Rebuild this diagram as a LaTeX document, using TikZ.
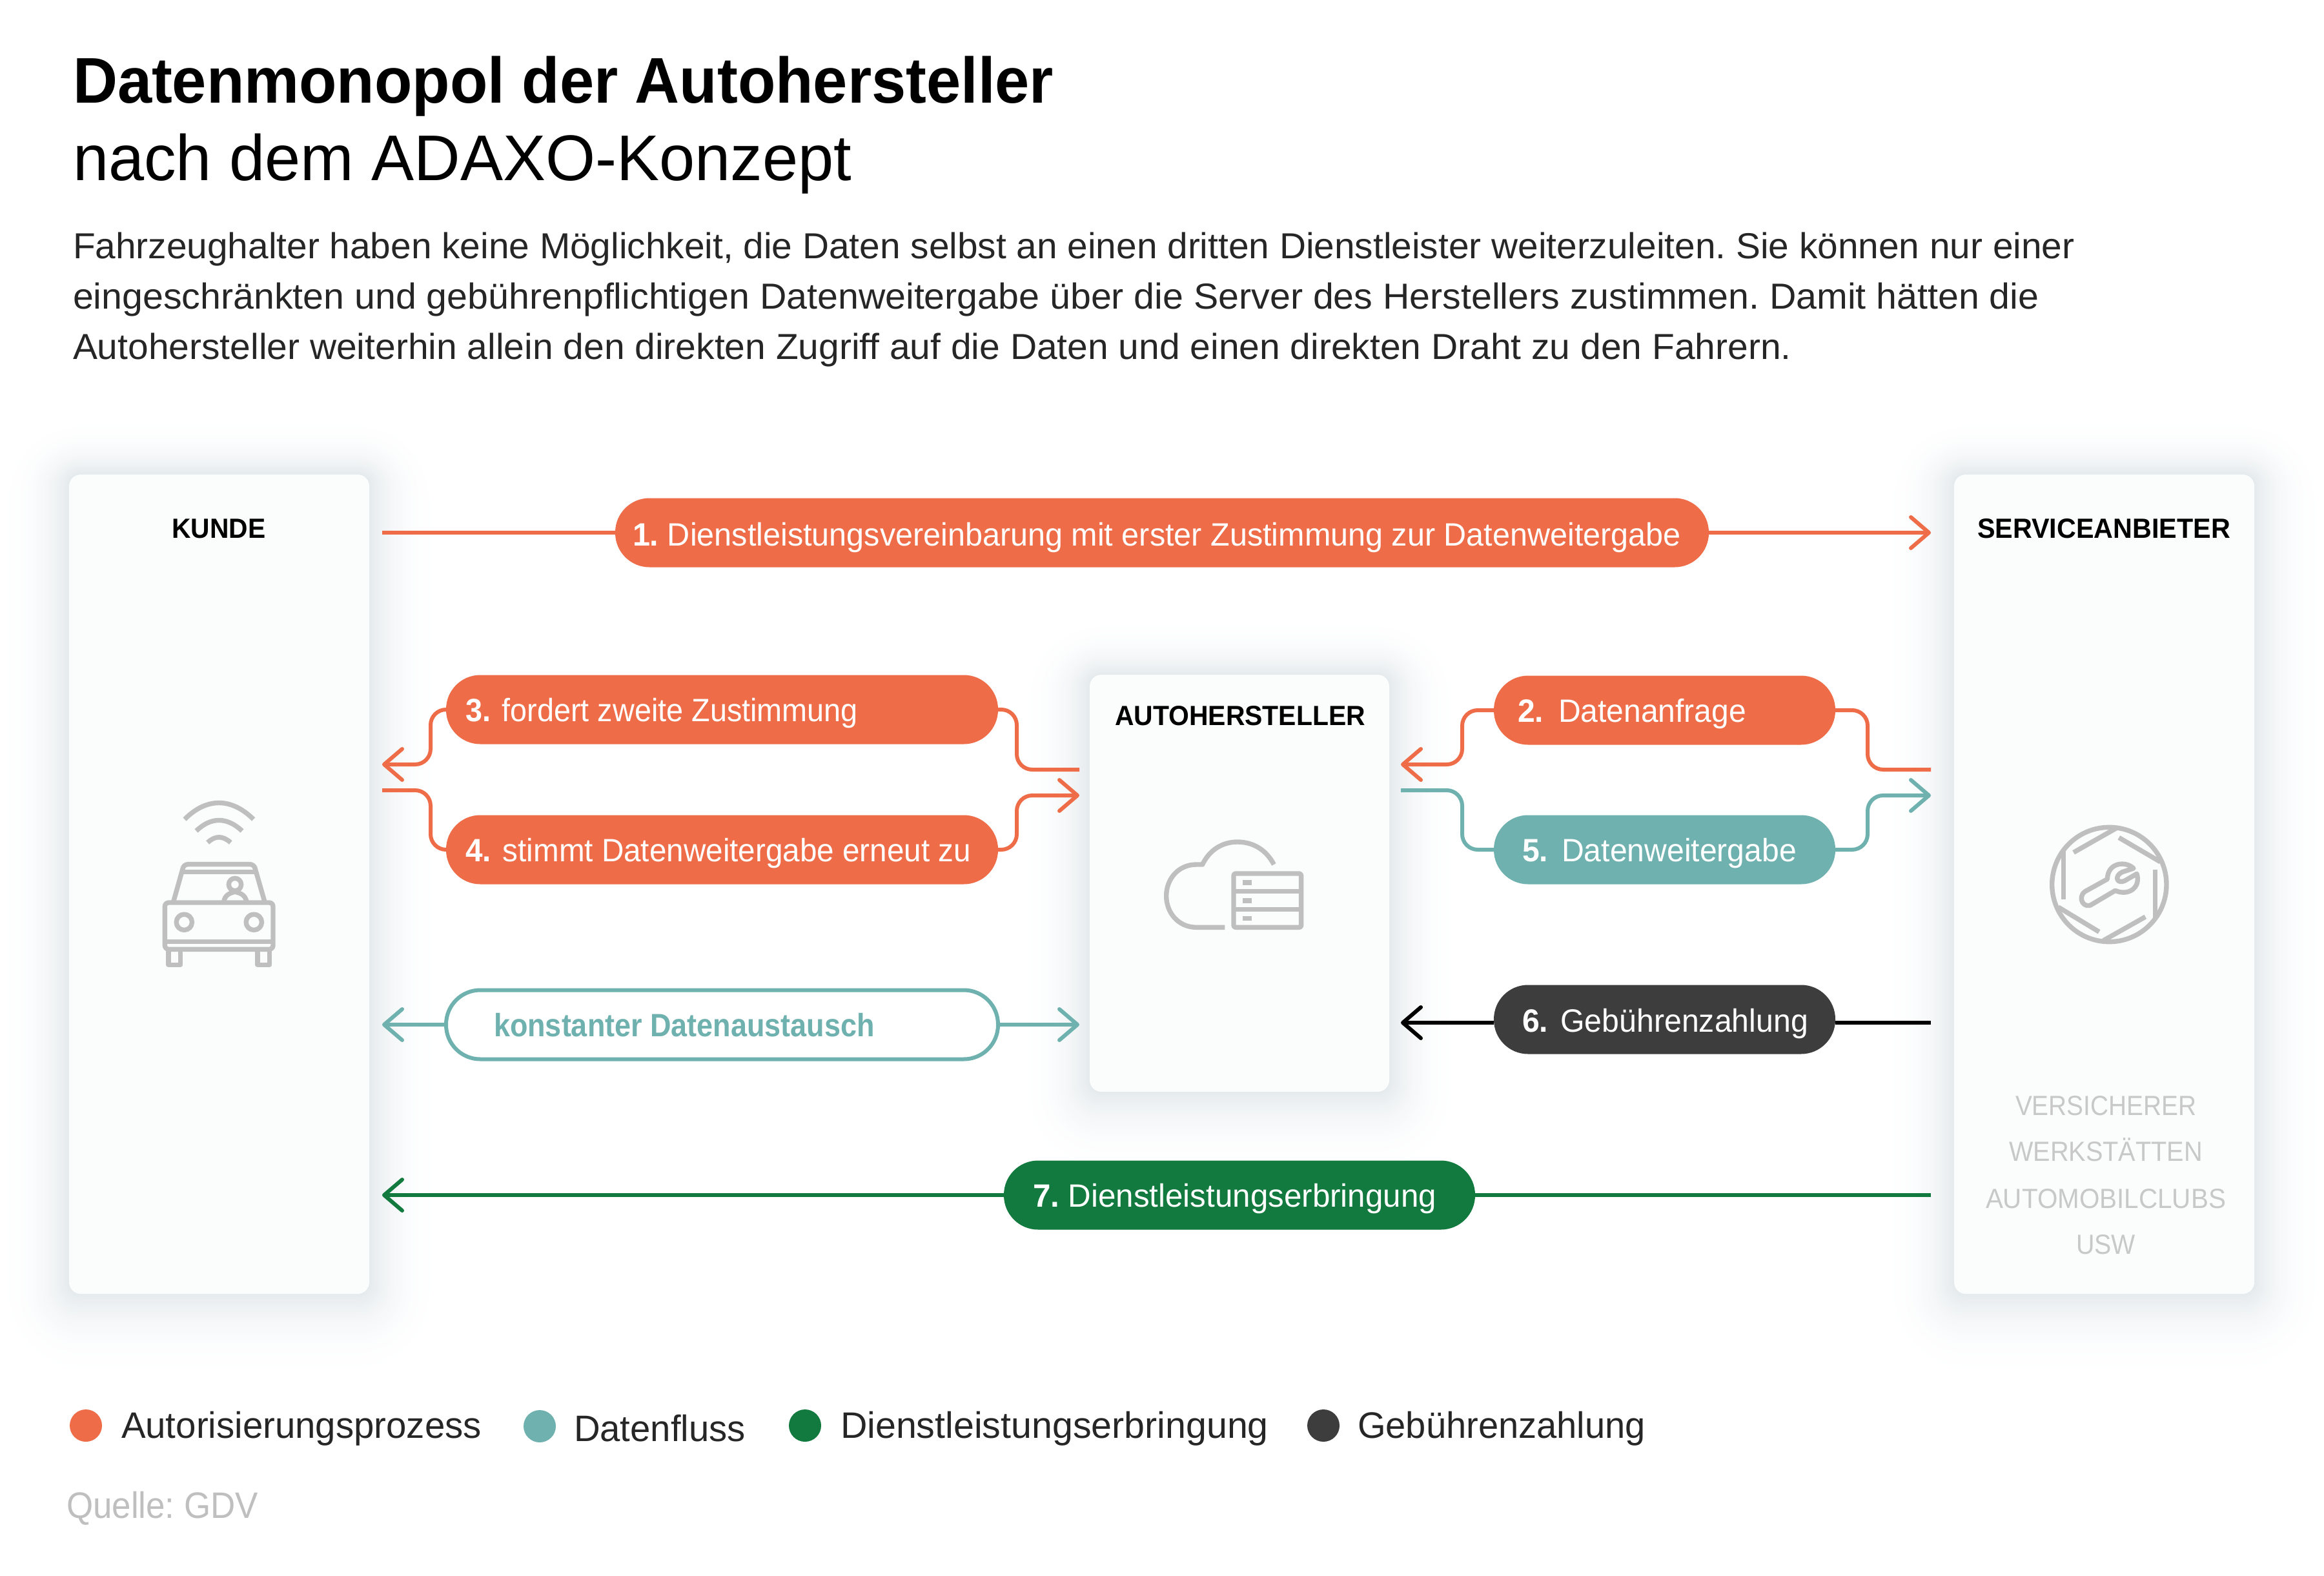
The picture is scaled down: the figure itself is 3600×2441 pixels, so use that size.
\documentclass[tikz,border=0pt]{standalone}
\usepackage{fontspec}
\setmainfont{Liberation Sans}
\usetikzlibrary{arrows.meta}
\frenchspacing
\definecolor{orangec}{HTML}{EE6C48}
\definecolor{tealc}{HTML}{6EB1AE}
\definecolor{greenc}{HTML}{127A3E}
\definecolor{darkc}{HTML}{3D3D3D}
\definecolor{iconc}{HTML}{BFBFBF}
\definecolor{lightc}{HTML}{C8C8C8}
\definecolor{cardc}{HTML}{FBFDFD}
\definecolor{shadowc}{HTML}{E4EAED}
\newsavebox\fwbox
\newcommand\fw[2]{\sbox\fwbox{#2}\scalebox{\fpeval{#1/\the\wd\fwbox}}[1]{\usebox\fwbox}}
\newcommand\cardshadow[4]{%
  \foreach \r in {112,109,...,1}{
    \pgfmathsetmacro\shw{100*(1-\r/115)^2.5}
    \fill[shadowc!\shw!white,rounded corners=\r pt+18pt]
      (#1-\r,#2-0.8*\r) rectangle (#3+\r,#4+1.2*\r);
  }}
\tikzset{
  txt/.style={anchor=base west,inner sep=0pt,outer sep=0pt},
  ctxt/.style={anchor=base,inner sep=0pt,outer sep=0pt},
  titlef/.style={font=\fontsize{100}{110}\selectfont},
  paraf/.style={font=\fontsize{56}{60}\selectfont,text=black!85},
  pillf/.style={font=\fontsize{50}{56}\selectfont,text=white},
  headf/.style={font=\bfseries\fontsize{43}{48}\selectfont},
  listf/.style={font=\fontsize{43}{48}\selectfont,text=lightc},
  legf/.style={font=\fontsize{57}{60}\selectfont,text=black!85},
  card/.style={fill=cardc,rounded corners=18pt},
  pillbase/.style={rounded corners=53pt,inner sep=0pt,outer sep=0pt,minimum height=107pt},
  conn/.style={line width=6pt,rounded corners=24pt},
  tip/.style={-{Straight Barb[length=28pt,width=48pt,line width=6pt,round=false]}},
  icon/.style={draw=iconc,line width=7.4pt,line cap=butt,line join=round},
  legdot/.style={circle,inner sep=0pt,outer sep=0pt,minimum size=50pt},
}
\begin{document}
\begin{tikzpicture}[x=1pt,y=-1pt]
\useasboundingbox (0,0) rectangle (3600,2441);
\fill[white] (0,0) rectangle (3600,2441);

% Title and intro
\node[txt,titlef] (t1) at (113,159) {\fw{1519}{\bfseries Datenmonopol der Autohersteller}};
\node[txt,titlef] (t2) at (113,279) {\fw{1206}{nach dem ADAXO-Konzept}};
\node[txt,paraf] (p1) at (113,400) {\fw{3101}{Fahrzeughalter haben keine Möglichkeit, die Daten selbst an einen dritten Dienstleister weiterzuleiten. Sie können nur einer}};
\node[txt,paraf] (p2) at (113,478) {\fw{3046}{eingeschränkten und gebührenpflichtigen Datenweitergabe über die Server des Herstellers zustimmen. Damit hätten die}};
\node[txt,paraf] (p3) at (113,556) {\fw{2662}{Autohersteller weiterhin allein den direkten Zugriff auf die Daten und einen direkten Draht zu den Fahrern.}};

% Cards
\cardshadow{107}{735}{572}{2004}
\cardshadow{1688}{1045}{2152}{1691}
\cardshadow{3027}{735}{3492}{2004}
\path[card] (107,735) rectangle (572,2004);
\path[card] (1688,1045) rectangle (2152,1691);
\path[card] (3027,735) rectangle (3492,2004);

\node[ctxt,headf] (hk) at (339,833) {\fw{145}{KUNDE}};
\node[ctxt,headf] (ha) at (1921,1123) {\fw{388}{AUTOHERSTELLER}};
\node[ctxt,headf] (hs) at (3259,833) {\fw{392}{SERVICEANBIETER}};
\node[ctxt,listf] (l1) at (3262,1727) {\fw{280}{VERSICHERER}};
\node[ctxt,listf] (l2) at (3262,1798) {\fw{300}{WERKSTÄTTEN}};
\node[ctxt,listf] (l3) at (3262,1871) {\fw{372}{AUTOMOBILCLUBS}};
\node[ctxt,listf] (l4) at (3262,1942) {\fw{92}{USW}};

% Pills (geometry)
\coordinate (a1) at (592,825);  \coordinate (z1) at (2991,825);
\coordinate (a3) at (592,1184); \coordinate (b3) at (667,1184);
\coordinate (a4) at (592,1224); \coordinate (b4) at (667,1224);
\coordinate (m3) at (1672,1192); \coordinate (n3) at (1575,1192);
\coordinate (m4) at (1672,1232); \coordinate (n4) at (1575,1232);
\coordinate (a2) at (2170,1184); \coordinate (b2) at (2265,1184);
\coordinate (a5) at (2170,1224); \coordinate (b5) at (2265,1224);
\coordinate (z2) at (2991,1192); \coordinate (y2) at (2893,1192);
\coordinate (z5) at (2991,1232); \coordinate (y5) at (2893,1232);
\coordinate (ak) at (592,1587); \coordinate (mk) at (1672,1587);
\coordinate (a6) at (2170,1584); \coordinate (z6) at (2991,1584);
\coordinate (a7) at (592,1851); \coordinate (z7) at (2991,1851);

\node[pillbase,fill=orangec,minimum width=1694pt] (pill1) at (1800,825) {};
\node[pillbase,fill=orangec,minimum width=855pt] (pill3) at (1118.5,1099) {};
\node[pillbase,fill=orangec,minimum width=855pt] (pill4) at (1118.5,1316) {};
\node[pillbase,fill=white,draw=tealc,line width=6pt,minimum width=855pt] (pillk) at (1118.5,1587) {};
\node[pillbase,fill=orangec,minimum width=529pt] (pill2) at (2578.5,1100) {};
\node[pillbase,fill=tealc,minimum width=529pt] (pill5) at (2578.5,1316) {};
\node[pillbase,fill=darkc,minimum width=529pt] (pill6) at (2578.5,1579) {};
\node[pillbase,fill=greenc,minimum width=730pt] (pill7) at (1920,1851) {};

% Connectors
\draw[conn,orangec,tip] (pill1.east) -- (z1);
\draw[conn,orangec] (a1) -- (pill1.west);
\draw[conn,orangec,tip] (pill3.west) -| (b3) -- (a3);
\draw[conn,orangec] (a4) -- (b4) |- (pill4.west);
\draw[conn,orangec] (pill3.east) -| (n3) -- (m3);
\draw[conn,orangec,tip] (pill4.east) -| (n4) -- (m4);
\draw[conn,orangec,tip] (pill2.west) -| (b2) -- (a2);
\draw[conn,tealc] (a5) -- (b5) |- (pill5.west);
\draw[conn,orangec] (pill2.east) -| (y2) -- (z2);
\draw[conn,tealc,tip] (pill5.east) -| (y5) -- (z5);
\draw[conn,tealc,tip] (pillk.west) -- (ak);
\draw[conn,tealc,tip] (pillk.east) -- (mk);
\draw[conn,black,tip] (a6 -| pill6.west) -- (a6);
\draw[conn,black] (z6) -- (z6 -| pill6.east);
\draw[conn,greenc,tip] (pill7.west) -- (a7);
\draw[conn,greenc] (z7) -- (pill7.east);

% Pill labels
\node[txt,pillf] (lab1) at (980,845) {\fw{1624}{\textbf{1.} Dienstleistungsvereinbarung mit erster Zustimmung zur Datenweitergabe}};
\node[txt,pillf] (lab3) at (721,1117) {\fw{608}{\textbf{3.}\hspace{5pt} fordert zweite Zustimmung}};
\node[txt,pillf] (lab4) at (721,1334) {\fw{783}{\textbf{4.}\hspace{5pt} stimmt Datenweitergabe erneut zu}};
\node[txt,pillf,text=tealc] (labk) at (765,1605) {\fw{590}{\bfseries konstanter Datenaustausch}};
\node[txt,pillf] (lab2) at (2351,1118) {\fw{354}{\textbf{2.}\hspace{10pt} Datenanfrage}};
\node[txt,pillf] (lab5) at (2358,1334) {\fw{425}{\textbf{5.}\hspace{8pt} Datenweitergabe}};
\node[txt,pillf] (lab6) at (2358,1598) {\fw{443}{\textbf{6.}\hspace{6pt} Gebührenzahlung}};
\node[txt,pillf] (lab7) at (1600,1869) {\fw{625}{\textbf{7.} Dienstleistungserbringung}};

% Car icon
\begin{scope}[shift={(220,1220)},x=0.3333pt,y=-0.3333pt]
  \draw[icon] (198,147) .. controls (300,45) and (415,45) .. (518,147);
  \draw[icon] (252,201) .. controls (320,135) and (395,135) .. (465,201);
  \draw[icon] (305,255) .. controls (340,222) and (375,222) .. (412,255);
  \draw[icon,rounded corners=6pt] (106,534) rectangle (609,751);
  \draw[icon] (106,715) -- (609,715);
  \draw[icon] (196,625) circle[radius=36.5];
  \draw[icon] (520,625) circle[radius=36.5];
  \draw[icon,rounded corners=6pt] (146,530) -- (195,356) -- (520,356) -- (570,530);
  \draw[icon] (183,392) -- (532,392);
  \draw[icon] (432,450) circle[radius=29];
  \draw[icon] (380,530) .. controls (385,500) and (405,490) .. (432,484) .. controls (460,490) and (480,500) .. (486,530);
  \draw[icon,line join=round] (123,755) -- (123,823) -- (179,823) -- (179,755);
  \draw[icon,line join=round] (537,755) -- (537,823) -- (593,823) -- (593,755);
\end{scope}

% Cloud and server icon
\begin{scope}[shift={(1770,1270)},x=0.3333pt,y=-0.3333pt]
  \draw[icon] (382,499) -- (250,499) .. controls (165,499) and (110,430) .. (110,353) .. controls (110,275) and (165,207) .. (250,207) -- (278,207) .. controls (310,140) and (370,102) .. (440,102) .. controls (515,102) and (575,140) .. (610,207);
  \draw[icon,rounded corners=3pt] (423,249) rectangle (737,499);
  \draw[icon] (423,332) -- (737,332);
  \draw[icon] (423,416) -- (737,416);
  \fill[iconc] (464,279) rectangle (507,302);
  \fill[iconc] (464,363) rectangle (507,386);
  \fill[iconc] (464,446) rectangle (507,469);
\end{scope}

% Wrench icon
\begin{scope}[shift={(3150,1260)},x=0.3333pt,y=-0.3333pt]
  \draw[icon] (352,330) circle[radius=266];
  \draw[icon] (186,181) -- (385,68);
  \draw[icon] (397,112) -- (590,225);
  \draw[icon] (565,260) -- (565,490);
  \draw[icon] (520,480) -- (325,590);
  \draw[icon] (305,550) -- (115,435);
  \draw[icon] (140,400) -- (140,170);
  \draw[icon] (465,255) .. controls (430,220) and (345,225) .. (343,305) -- (240,362) .. controls (200,390) and (235,450) .. (275,420) -- (380,358) .. controls (440,385) and (500,345) .. (480,280) -- (425,312) .. controls (385,330) and (375,290) .. (412,272) -- cycle;
\end{scope}

% Legend
\node[legdot,fill=orangec] (d1) at (133,2208) {};
\node[legdot,fill=tealc] (d2) at (836,2209) {};
\node[legdot,fill=greenc] (d3) at (1247,2208) {};
\node[legdot,fill=darkc] (d4) at (2050,2208) {};
\node[txt,legf] (g1) at (188,2227) {\fw{558}{Autorisierungsprozess}};
\node[txt,legf] (g2) at (889,2232) {\fw{266}{Datenfluss}};
\node[txt,legf] (g3) at (1302,2227) {\fw{663}{Dienstleistungserbringung}};
\node[txt,legf] (g4) at (2103,2227) {\fw{446}{Gebührenzahlung}};
\node[txt,legf,text=iconc] (src) at (103,2351) {\fw{297}{Quelle: GDV}};
\end{tikzpicture}
\end{document}
